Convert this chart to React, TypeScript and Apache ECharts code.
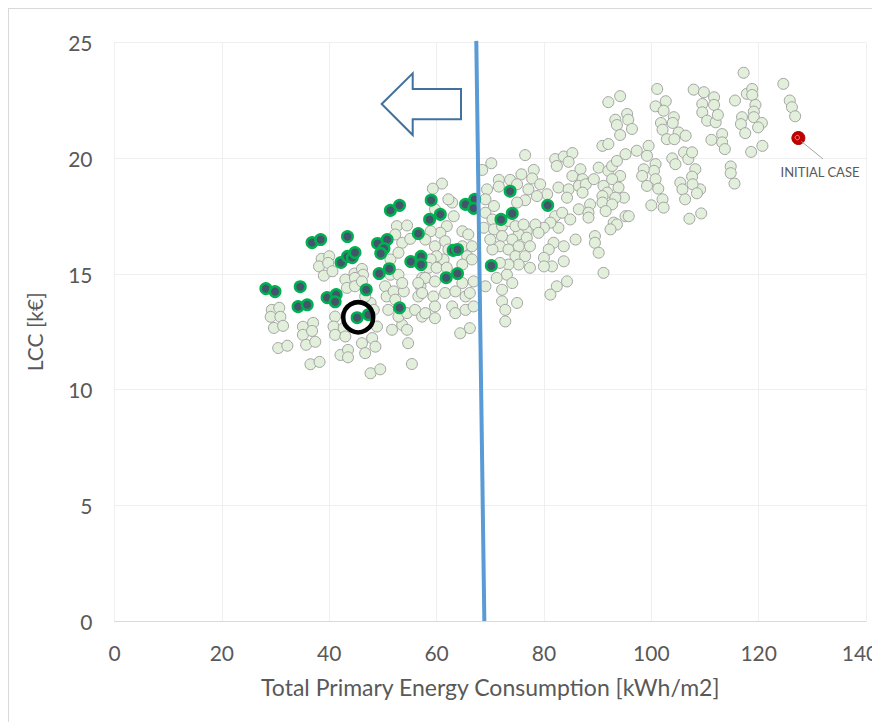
import React, { useEffect, useRef } from "react";
import * as echarts from "echarts";

const xAxisTitle = "Total Primary Energy Consumption [kWh/m2]";
const yAxisTitle = "LCC [k€]";
const xRange = [0, 140, 20];
const yRange = [0, 25, 5];

// all design alternatives (light markers)
const grayPoints: number[][] = [
  [29.3,13.45],[30.7,13.54],[29.1,13.15],[30.9,13.15],[29.7,12.67],[31.4,12.76],[30.5,11.8],[32.2,11.9],
  [35.1,12.72],[37.0,12.89],[35.1,12.37],[36.8,12.54],[35.7,11.94],[37.4,12.07],[36.5,11.1],[38.2,11.2],
  [38.6,15.66],[40.0,15.77],[38.1,15.33],[39.8,15.48],[39.0,14.93],[40.6,15.12],[44.7,15.02],[46.1,15.22],
  [46.3,14.97],[43.0,14.76],[44.8,14.83],[43.3,14.4],[44.8,14.47],[46.1,14.68],[47.7,13.75],[46.7,14.03],
  [48.3,13.45],[41.1,13.16],[40.8,12.73],[42.7,12.66],[41.1,12.37],[43.0,12.3],[42.1,11.5],[43.5,11.72],
  [43.5,11.4],[46.1,12.01],[48.0,12.23],[48.6,11.86],[46.7,11.58],[48.9,12.73],[47.7,10.71],[49.5,10.88],
  [51.7,12.59],[53.6,12.8],[54.5,12.59],[54.7,12.01],[55.4,11.11],[50.4,14.47],[50.7,14.03],[52.0,14.25],
  [53.9,14.25],[52.3,13.89],[51.0,13.45],[52.9,13.16],[54.5,13.31],[56.0,13.45],[57.0,14.47],[57.3,14.83],
  [56.6,14.03],[57.3,13.16],[52.6,17.07],[54.5,17.1],[52.3,16.71],[53.6,16.35],[55.1,16.52],[51.4,15.63],
  [52.9,15.92],[51.4,14.97],[52.9,14.97],[53.6,14.61],
  [76.5,20.14],[70.2,19.79],[61.0,18.91],[59.3,18.69],[68.5,19.5],[71.6,19.07],[73.7,19.07],[75.8,19.31],
  [78.1,19.5],[77.8,19.13],[71.6,18.78],[69.4,18.66],[75.0,18.88],[77.1,18.66],[79.3,18.88],[80.6,18.45],
  [78.7,18.37],[76.5,18.19],[75.0,18.09],[82.1,19.97],[83.7,20.08],[85.3,20.23],[82.4,19.67],[84.6,19.85],
  [86.8,19.53],[85.3,19.24],[87.2,19.1],[82.7,18.74],[84.6,18.66],[86.5,18.81],[84.3,18.3],[86.5,17.8],
  [82.1,17.5],[83.4,17.65],[84.9,17.36],[82.7,17.0],[81.2,17.22],[80.0,17.0],[78.4,17.14],[79.0,16.78],
  [76.8,16.85],[75.3,16.71],[85.9,16.49],[81.8,16.35],[83.7,16.2],[80.9,16.06],[80.0,15.7],[81.5,15.33],
  [80.0,15.33],[83.7,15.55],[84.3,14.68],[82.4,14.47],[81.2,14.11],
  [69.1,18.23],[70.7,17.94],[69.1,17.65],[70.4,17.36],[68.8,17.0],[70.7,16.93],[72.2,17.07],[73.4,17.29],
  [74.7,17.07],[76.2,17.14],[72.2,16.64],[74.1,16.49],[71.8,16.2],[73.4,16.06],[75.3,16.2],[76.8,16.57],
  [77.4,16.2],[74.7,15.77],[76.5,15.77],[75.3,15.41],[77.4,15.27],[73.4,15.41],[71.8,15.48],[70.4,16.06],
  [70.0,16.49],[73.1,14.97],[71.2,14.83],[74.1,14.61],[72.2,14.32],[72.2,13.82],[72.8,13.45],[75.0,13.75],
  [72.8,12.95],[69.1,14.47],
  [62.9,18.09],[62.2,18.23],[63.2,17.5],[59.7,17.8],[61.9,17.07],[64.8,16.85],[65.9,16.71],[60.7,16.78],
  [58.9,16.85],[57.9,16.49],[59.7,16.2],[61.6,16.42],[62.2,16.06],[64.8,16.2],[66.6,16.2],[65.7,15.77],
  [66.6,15.63],[64.8,15.41],[61.3,15.63],[60.0,15.77],[58.9,15.63],[58.5,15.27],[60.0,15.27],[61.9,15.27],
  [57.9,14.83],[59.7,14.68],[56.6,14.61],[57.3,14.18],[59.4,14.03],[61.6,14.18],[63.5,14.25],[65.4,14.03],
  [66.2,14.18],[64.8,14.61],[66.9,14.68],[62.9,13.6],[59.7,13.6],[57.9,13.31],[59.7,13.09],[63.5,13.31],
  [65.4,13.45],[66.2,12.66],[64.4,12.44],[66.9,13.6],
  [94.2,22.69],[92.0,22.43],[95.5,21.92],[93.3,21.67],[93.6,21.44],[95.7,21.67],[96.4,21.27],[94.2,21.01],
  [100.8,22.25],[102.7,22.47],[102.3,22.06],[104.2,21.78],[101.8,21.53],[102.1,21.24],[104.0,21.53],[105.1,21.12],
  [106.4,20.98],[102.9,20.83],[104.3,20.83],[101.1,23.0],[107.9,22.97],[109.8,22.86],[109.5,22.35],[111.7,22.64],
  [111.7,22.31],[109.5,21.99],[110.4,21.63],[112.0,21.56],[112.4,21.88],[111.2,20.8],[113.2,21.05],[113.2,20.69],
  [90.9,20.54],[92.0,20.62],[95.2,20.18],[97.3,20.33],[99.5,20.54],[99.2,20.11],[100.8,19.75],[100.5,19.46],
  [98.6,19.53],[98.3,19.24],[100.8,19.1],[99.2,18.81],[101.3,18.69],[102.1,18.23],[100.0,17.97],[102.3,17.87],
  [103.9,20.0],[104.5,19.75],[106.1,20.26],[106.9,19.97],[107.6,20.26],[108.2,19.53],[107.6,19.21],[105.4,18.95],
  [105.8,18.66],[109.1,18.66],[107.7,18.88],[108.5,18.49],[106.3,18.23],[107.1,17.39],[109.3,17.62],
  [87.8,18.88],[87.2,18.52],[90.2,19.6],[92.0,19.46],[92.7,19.67],[93.6,19.89],[94.2,19.24],[89.3,19.1],
  [91.1,18.81],[92.7,19.1],[93.9,18.74],[91.8,18.52],[90.9,18.37],[94.9,18.3],[93.3,18.3],[90.9,18.09],
  [92.7,18.01],[88.6,18.01],[88.3,17.65],[91.5,17.72],[88.3,17.44],[95.2,17.5],[95.8,17.5],[93.0,17.22],
  [93.6,17.14],[92.4,16.93],[89.5,16.64],[89.5,16.35],[90.2,15.92],[91.1,15.05],
  [117.2,23.7],[115.6,22.5],[117.8,22.79],[118.8,23.0],[118.8,22.74],[119.4,22.31],[119.1,22.02],[119.1,21.78],
  [120.6,21.53],[119.9,21.34],[116.9,21.78],[116.7,21.48],[117.5,21.09],[113.7,20.4],[118.6,20.28],[120.7,20.54],
  [114.8,19.65],[114.8,19.36],[115.5,18.91],[124.6,23.22],[125.8,22.5],[126.2,22.21],[126.8,21.82]
];

// highlighted alternatives (dark markers, green outline)
const selectedPoints: number[][] = [
  [28.2,14.37],[29.9,14.24],[34.6,14.45],[34.2,13.59],[35.9,13.67],[39.6,13.98],[41.3,14.11],[41.1,13.8],
  [36.8,16.36],[38.4,16.49],[43.4,16.62],[42.2,15.5],[43.4,15.76],[44.3,15.71],[44.8,15.93],[46.9,14.32],
  [45.2,13.11],[47.3,13.24],[49.0,16.32],[50.8,16.49],[50.2,16.1],[49.6,15.89],[49.3,15.02],[51.2,15.23],
  [51.4,17.75],[53.1,17.97],[53.1,13.54],[56.6,16.75],[59.0,18.19],[60.7,17.58],[58.7,17.36],[55.2,15.54],
  [57.1,15.76],[57.1,15.41],[63.1,16.02],[63.9,16.06],[61.8,14.84],[63.9,15.02],[65.4,18.01],[67.1,18.23],
  [66.9,17.84],[70.2,15.36],[73.7,18.58],[74.1,17.62],[72.0,17.36],[80.7,17.97]
];

const chosenPoint: number[][] = [[45.4, 13.13]];
const initialCase: number[][] = [[127.4, 20.88]];
const initialCaseLabel = "INITIAL CASE";
const thresholdLine: number[][] = [[67.4, 25.08], [68.9, 0]];

const FONT = "Lato, 'Open Sans', sans-serif";
const TXT = "#595959";

export default function App() {
  const ref = useRef<HTMLDivElement>(null);
  useEffect(() => {
    document.documentElement.style.overflow = "hidden";
    document.body.style.overflow = "hidden";
    const chart = echarts.init(ref.current!, undefined, { renderer: "svg" });
    chart.setOption({
      animation: false,
      backgroundColor: "#ffffff",
      textStyle: { fontFamily: FONT },
      grid: { left: 105.5, top: 33.7, width: 751.5, height: 578.3, containLabel: false },
      xAxis: {
        type: "value",
        min: xRange[0], max: xRange[1], interval: xRange[2],
        name: xAxisTitle, nameLocation: "middle", nameGap: 54,
        nameTextStyle: { color: TXT, fontSize: 23, fontFamily: FONT },
        axisLine: { show: true, lineStyle: { color: "#d9d9d9", width: 1 } },
        axisTick: { show: false },
        axisLabel: {
          color: TXT, fontSize: 21, margin: 21, fontFamily: FONT,
          formatter: (v: number) => (v === xRange[1] ? `{edge|${v}}` : `${v}`),
          rich: { edge: { color: TXT, fontSize: 21, fontFamily: FONT, padding: [0, 12, 0, 0] } },
        },
        splitLine: { show: true, lineStyle: { color: "#efefef", width: 1 } },
      },
      yAxis: {
        type: "value",
        min: yRange[0], max: yRange[1], interval: yRange[2],
        name: yAxisTitle, nameLocation: "middle", nameGap: 70, nameRotate: 90,
        nameTextStyle: { color: TXT, fontSize: 21, fontFamily: FONT },
        axisLine: { show: false },
        axisTick: { show: false },
        axisLabel: { color: TXT, fontSize: 21, margin: 22, fontFamily: FONT },
        splitLine: { show: true, lineStyle: { color: "#efefef", width: 1 } },
      },
      series: [
        {
          type: "scatter", data: grayPoints, symbolSize: 11, z: 2,
          itemStyle: { color: "#e2efda", borderColor: "#a3a3a3", borderWidth: 1, opacity: 1 },
        },
        {
          type: "scatter", data: selectedPoints, symbolSize: 10.5, z: 3,
          itemStyle: { color: "#44546a", borderColor: "#00b050", borderWidth: 2.5, opacity: 1 },
        },
        {
          type: "scatter", data: chosenPoint, symbolSize: 30, z: 4,
          itemStyle: { color: "rgba(0,0,0,0)", borderColor: "#000000", borderWidth: 4.5, opacity: 1 },
        },
        {
          type: "scatter", data: initialCase, symbolSize: 13, z: 4,
          itemStyle: { color: "#c00000", borderColor: "#b00000", borderWidth: 1, opacity: 1 },
        },
        {
          type: "line", data: thresholdLine, symbol: "none", clip: false, z: 5,
          lineStyle: { color: "#5b9bd5", width: 4 },
        },
      ],
      graphic: [
        {
          type: "polygon", z: 10,
          shape: { points: [[372.7, 95], [403.7, 64.3], [403.7, 80], [452, 80], [452, 110.3], [403.7, 110.3], [403.7, 126]] },
          style: { fill: "#ffffff", stroke: "#41719c", lineWidth: 2 },
        },
        {
          type: "line", z: 10,
          shape: { x1: 792.5, y1: 132.5, x2: 814, y2: 150 },
          style: { stroke: "#a6a6a6", lineWidth: 1 },
        },
        {
          type: "circle", z: 11,
          shape: { cx: 788.3, cy: 128.6, r: 2.2 },
          style: { fill: "none", stroke: "#f3b0b0", lineWidth: 0.8 },
        },
        {
          type: "text", z: 10, x: 771.5, y: 162.5,
          style: { text: initialCaseLabel, fill: TXT, font: `13px ${FONT}`, textVerticalAlign: "middle" },
        },
      ],
    });
    return () => chart.dispose();
  }, []);
  return (
    <div style={{ width: 900, height: 714, borderTop: "1px solid #d9d9d9", borderLeft: "1px solid #d9d9d9", boxSizing: "border-box" }}>
      <div ref={ref} style={{ width: 899, height: 713 }} />
    </div>
  );
}
